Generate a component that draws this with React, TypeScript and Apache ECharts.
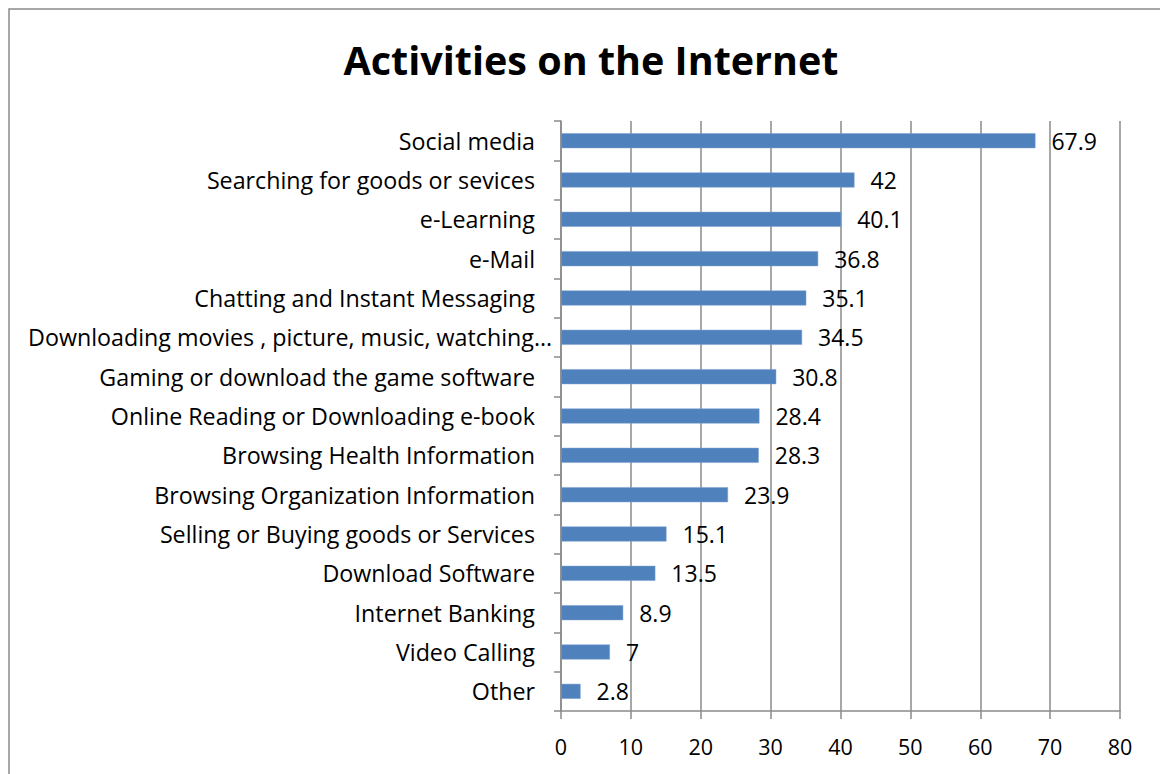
import React, { useEffect, useRef } from "react";
import * as echarts from "echarts";

const categories = [
  "Social media",
  "Searching for goods or sevices",
  "e-Learning",
  "e-Mail",
  "Chatting and Instant Messaging",
  "Downloading movies , picture, music, watching…",
  "Gaming or download the game software",
  "Online Reading or Downloading e-book",
  "Browsing Health Information",
  "Browsing Organization Information",
  "Selling or Buying goods or Services",
  "Download Software",
  "Internet Banking",
  "Video Calling",
  "Other",
];
const values = [67.9, 42, 40.1, 36.8, 35.1, 34.5, 30.8, 28.4, 28.3, 23.9, 15.1, 13.5, 8.9, 7, 2.8];
const xTicks = { min: 0, max: 80, interval: 10 };

const FONT = "'Open Sans', 'Noto Sans', sans-serif";

export default function App() {
  const ref = useRef<HTMLDivElement>(null);
  useEffect(() => {
    if (!ref.current) return;
    const chart = echarts.init(ref.current, null, { renderer: "svg" });
    chart.setOption({
      animation: false,
      backgroundColor: "#ffffff",
      title: {
        text: "Activities on the Internet",
        left: 586,
        top: 35,
        textAlign: "center",
        textStyle: { fontFamily: FONT, fontWeight: "bold", fontSize: 39.5, color: "#000" },
      },
      graphic: [
        {
          type: "rect",
          shape: { x: 9, y: 9, width: 1200, height: 900 },
          style: { fill: "none", stroke: "#8a8a8a", lineWidth: 1.5 },
          silent: true,
        },
      ],
      grid: { left: 561, right: 40, top: 121, bottom: 63, containLabel: false },
      xAxis: {
        type: "value",
        min: xTicks.min,
        max: xTicks.max,
        interval: xTicks.interval,
        axisLine: { show: true, lineStyle: { color: "#8a8a8a", width: 1.5 } },
        axisTick: { show: true, length: 8, lineStyle: { color: "#8a8a8a", width: 1.5 } },
        splitLine: { show: true, lineStyle: { color: "#8a8a8a", width: 1.5 } },
        axisLabel: { fontFamily: FONT, fontSize: 21.5, color: "#000", margin: 24 },
      },
      yAxis: {
        type: "category",
        data: categories,
        inverse: true,
        axisLine: { show: true, lineStyle: { color: "#8a8a8a", width: 1.5 } },
        axisTick: { show: true, length: 7, alignWithLabel: false, lineStyle: { color: "#8a8a8a", width: 1.5 } },
        axisLabel: {
          fontFamily: FONT,
          fontSize: 23.25,
          color: "#000",
          margin: 8,
          formatter: (v: string) => (v.endsWith("…") ? `{l|${v}}` : `{n|${v}}`),
          rich: {
            n: { fontFamily: FONT, fontSize: 23.25, color: "#000", padding: [0, 18, 0, 0] },
            l: { fontFamily: FONT, fontSize: 23.25, color: "#000", padding: [0, 1, 0, 0] },
          },
        },
      },
      series: [
        {
          type: "bar",
          data: values,
          barWidth: 15,
          itemStyle: { color: "#4F81BD", borderColor: "#7da0cf", borderWidth: 0.5 },
          label: {
            show: true,
            position: "right",
            distance: 16,
            fontFamily: FONT,
            fontSize: 23,
            color: "#000",
          },
        },
      ],
    });
    return () => chart.dispose();
  }, []);
  return (
    <div
      ref={ref}
      style={{ position: "fixed", left: 0, top: 0, width: 1160, height: 774 }}
    />
  );
}
